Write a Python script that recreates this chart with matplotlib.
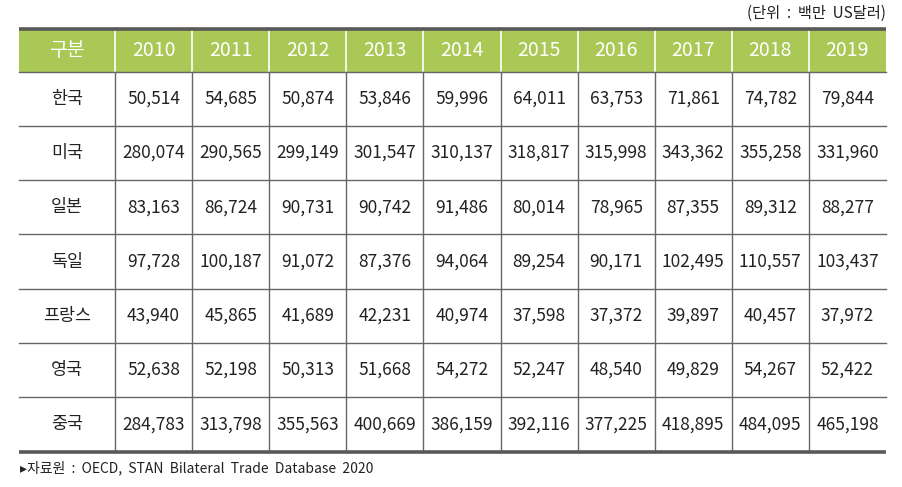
import matplotlib
matplotlib.use("Agg")
import matplotlib.pyplot as plt

plt.rcParams['font.family'] = ['Noto Sans CJK KR', 'DejaVu Sans']

years = ["2010", "2011", "2012", "2013", "2014", "2015", "2016", "2017", "2018", "2019"]
countries = ["한국", "미국", "일본", "독일", "프랑스", "영국", "중국"]
korea   = [50514, 54685, 50874, 53846, 59996, 64011, 63753, 71861, 74782, 79844]
usa     = [280074, 290565, 299149, 301547, 310137, 318817, 315998, 343362, 355258, 331960]
japan   = [83163, 86724, 90731, 90742, 91486, 80014, 78965, 87355, 89312, 88277]
germany = [97728, 100187, 91072, 87376, 94064, 89254, 90171, 102495, 110557, 103437]
france  = [43940, 45865, 41689, 42231, 40974, 37598, 37372, 39897, 40457, 37972]
uk      = [52638, 52198, 50313, 51668, 54272, 52247, 48540, 49829, 54267, 52422]
china   = [284783, 313798, 355563, 400669, 386159, 392116, 377225, 418895, 484095, 465198]
rows = [korea, usa, japan, germany, france, uk, china]
header_first = "구분"
unit_text = "(단위 : 백만 US달러)"
source_text = "▸자료원 : OECD, STAN Bilateral Trade Database 2020"

W, H = 902, 487
fig = plt.figure(figsize=(W / 100, H / 100), dpi=100)
ax = fig.add_axes([0, 0, 1, 1])
ax.set_xlim(0, W)
ax.set_ylim(H, 0)
ax.axis('off')

left, right = 19, 886
first_w = 96
col_w = (right - left - first_w) / len(years)
top = 28.5
head_h = 43
bottom = 451.5
row_h = (bottom - top - head_h) / len(countries)

green = '#A9C856'
ax.add_patch(plt.Rectangle((left, top), right - left, head_h, color=green, lw=0, zorder=1))

xs = [left + first_w + i * col_w for i in range(len(years) + 1)]
for x in xs[:-1]:
    ax.plot([x, x], [top, top + head_h], color='white', lw=1.2, zorder=2)
for x in xs[:-1]:
    ax.plot([x, x], [top + head_h, bottom], color='#666666', lw=1.0, zorder=2)
for r in range(len(countries)):
    y = top + head_h + r * row_h
    ax.plot([left, right], [y, y], color='#666666', lw=1.0, zorder=2)
ax.plot([left, right], [top, top], color='#595959', lw=2.6, zorder=3, solid_capstyle='butt')
ax.plot([left, right], [bottom, bottom], color='#595959', lw=2.6, zorder=3, solid_capstyle='butt')

fs = 12.5
hfs = 14
ax.text(left + first_w / 2, top + head_h / 2, header_first, color='white', fontsize=hfs,
        ha='center', va='center', zorder=4)
for i, yr in enumerate(years):
    ax.text(xs[i] + col_w / 2, top + head_h / 2, yr, color='white', fontsize=hfs,
            ha='center', va='center', zorder=4)

for r, (name, vals) in enumerate(zip(countries, rows)):
    cy = top + head_h + (r + 0.5) * row_h
    ax.text(left + first_w / 2, cy, name, color='#222222', fontsize=fs,
            ha='center', va='center', zorder=4)
    for i, v in enumerate(vals):
        ax.text(xs[i] + col_w / 2, cy, f"{v:,}", color='#222222', fontsize=fs,
                ha='center', va='center', zorder=4)

ax.text(right, 13, unit_text.replace(" ", "  "), fontsize=11, ha='right', va='center', color='#222222')
ax.text(left + 1, 468, source_text.replace(" ", "  "), fontsize=10, ha='left', va='center', color='#222222')

fig.savefig('out.png', dpi=100)
